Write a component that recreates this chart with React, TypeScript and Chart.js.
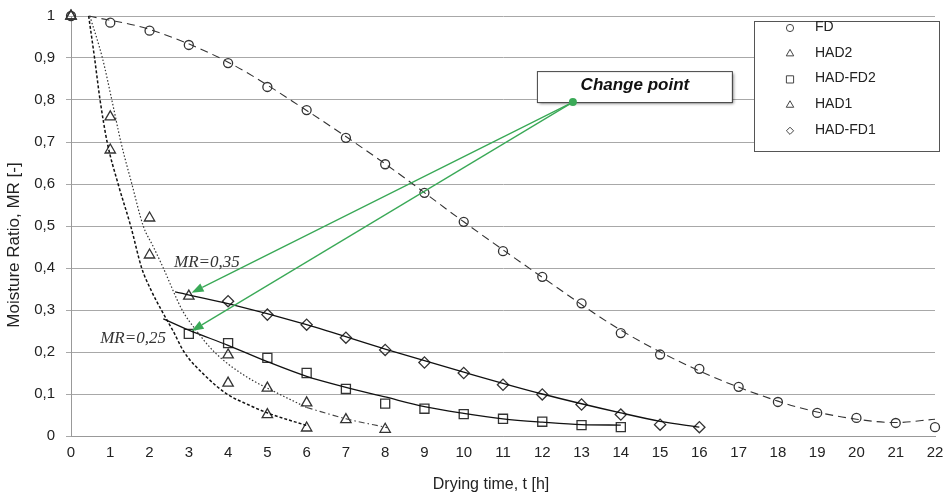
import React, { useEffect, useRef } from 'react';
import { Chart, registerables } from 'chart.js';

Chart.register(...registerables);

// ---------- data ----------
const fdTime = [0, 1, 2, 3, 4, 5, 6, 7, 8, 9, 10, 11, 12, 13, 14, 15, 16, 17, 18, 19, 20, 21, 22];
const fdMR = [1.0, 0.984, 0.965, 0.931, 0.888, 0.831, 0.776, 0.71, 0.647, 0.579, 0.51, 0.44, 0.379, 0.316, 0.245, 0.194, 0.16, 0.117, 0.081, 0.055, 0.043, 0.031, 0.021];

const had2Time = [0, 1, 2, 4, 5, 6];
const had2MR = [1.0, 0.681, 0.431, 0.126, 0.051, 0.019];

const had1Time = [0, 1, 2, 3, 4, 5, 6, 7, 8];
const had1MR = [1.0, 0.76, 0.519, 0.333, 0.193, 0.114, 0.079, 0.039, 0.016];

const hadFd2Time = [3, 4, 5, 6, 7, 8, 9, 10, 11, 12, 13, 14];
const hadFd2MR = [0.243, 0.221, 0.186, 0.15, 0.112, 0.077, 0.065, 0.052, 0.041, 0.034, 0.026, 0.021];

const hadFd1Time = [4, 5, 6, 7, 8, 9, 10, 11, 12, 13, 14, 15, 16];
const hadFd1MR = [0.321, 0.289, 0.265, 0.234, 0.205, 0.175, 0.15, 0.122, 0.099, 0.075, 0.051, 0.027, 0.021];

// fitted curves
const fdFitTime = [0.45, 2, 4, 6, 8, 10, 12, 14, 16, 18, 19, 20, 21, 22];
const fdFitMR = [1.0, 0.968, 0.89, 0.775, 0.648, 0.51, 0.378, 0.252, 0.155, 0.083, 0.057, 0.04, 0.032, 0.04];

const had2FitTime = [0.45, 0.6, 0.74, 0.92, 1.2, 1.52, 1.8, 2.05, 2.3, 2.6, 2.88, 3.4, 3.97, 4.5, 5, 6];
const had2FitMR = [1.0, 0.9, 0.8, 0.7, 0.6, 0.5, 0.4, 0.345, 0.3, 0.25, 0.2, 0.145, 0.1, 0.075, 0.055, 0.025];

const had1FitTime = [0.48, 0.8, 1.04, 1.27, 1.55, 1.84, 2.1, 2.35, 2.83, 3.2, 3.65, 4.4, 5.3, 6];
const had1FitMR = [1.0, 0.9, 0.8, 0.7, 0.6, 0.5, 0.45, 0.4, 0.3, 0.25, 0.2, 0.145, 0.1, 0.068];

const had1TailTime = [6, 7, 8.05];
const had1TailMR = [0.068, 0.041, 0.02];

const hadFd2FitTime = [2.35, 3, 4, 5, 6, 7, 8, 9, 10, 11, 12, 13, 14];
const hadFd2FitMR = [0.279, 0.252, 0.216, 0.177, 0.142, 0.116, 0.093, 0.07, 0.054, 0.041, 0.033, 0.027, 0.026];

const hadFd1FitTime = [2.65, 4, 6, 8, 10, 12, 14, 15, 16];
const hadFd1FitMR = [0.343, 0.315, 0.265, 0.207, 0.152, 0.1, 0.055, 0.035, 0.021];

const xTicksMax = 22;

// annotation anchors (data units)
const changePointLabel = 'Change point';
const changeDot = { x: 12.78, y: 0.795 };
const arrowTips = [{ x: 3.07, y: 0.341 }, { x: 3.07, y: 0.25 }];
const mrLabels = [
  { text: 'MR=0,35', x: 3.46, y: 0.412 },
  { text: 'MR=0,25', x: 1.58, y: 0.231 },
];
const xTitle = 'Drying time, t [h]';
const yTitle = 'Moisture Ratio, MR [-]';

const pts = (xs: number[], ys: number[]) => xs.map((x, i) => ({ x, y: ys[i] }));

const SANS = '"Liberation Sans", Arial, sans-serif';
const TXT = '#222';
const MK = '#333';
const GREEN = '#3aa957';

function drawMarker(ctx: CanvasRenderingContext2D, style: string, x: number, y: number, r: number) {
  ctx.beginPath();
  if (style === 'circle') {
    ctx.arc(x, y, r, 0, Math.PI * 2);
  } else if (style === 'triangle') {
    const t = r * 1.2;
    ctx.moveTo(x, y - t);
    ctx.lineTo(x + t * 0.866, y + t * 0.5);
    ctx.lineTo(x - t * 0.866, y + t * 0.5);
    ctx.closePath();
  } else if (style === 'rect') {
    const s = r;
    ctx.rect(x - s, y - s, 2 * s, 2 * s);
  } else if (style === 'rectRot') {
    ctx.moveTo(x - r, y);
    ctx.lineTo(x, y - r);
    ctx.lineTo(x + r, y);
    ctx.lineTo(x, y + r);
    ctx.closePath();
  }
  ctx.stroke();
}

const overlayPlugin = {
  id: 'overlay',
  afterDatasetsDraw(chart: any) {
    const { ctx, scales } = chart;
    const xs = scales.x;
    const ys = scales.y;
    const px = (v: number) => xs.getPixelForValue(v);
    const py = (v: number) => ys.getPixelForValue(v);
    ctx.save();

    // MR labels
    ctx.font = 'italic 17px "Liberation Serif", "Times New Roman", serif';
    ctx.fillStyle = '#333';
    ctx.textAlign = 'center';
    ctx.textBaseline = 'middle';
    mrLabels.forEach((l) => ctx.fillText(l.text, px(l.x), py(l.y)));

    // change point box
    const dx = px(changeDot.x);
    const dy = py(changeDot.y);
    const bw = 195;
    const bh = 31;
    const bx = dx - 36;
    const by = dy - bh;
    ctx.save();
    ctx.shadowColor = 'rgba(0,0,0,0.55)';
    ctx.shadowOffsetX = 2;
    ctx.shadowOffsetY = 2;
    ctx.shadowBlur = 3;
    ctx.fillStyle = '#fff';
    ctx.fillRect(bx, by, bw, bh);
    ctx.restore();
    ctx.strokeStyle = '#444';
    ctx.lineWidth = 1;
    ctx.strokeRect(bx + 0.5, by + 0.5, bw, bh);
    ctx.font = `italic bold 17px ${SANS}`;
    ctx.fillStyle = '#111';
    ctx.textAlign = 'center';
    ctx.textBaseline = 'middle';
    ctx.fillText(changePointLabel, bx + 98, by + 14);

    // arrows
    ctx.strokeStyle = GREEN;
    ctx.fillStyle = GREEN;
    ctx.lineWidth = 1.3;
    arrowTips.forEach((t) => {
      const tx = px(t.x);
      const ty = py(t.y);
      const ang = Math.atan2(ty - dy, tx - dx);
      const hl = 12;
      const hw = 4.5;
      const bxp = tx - hl * Math.cos(ang);
      const byp = ty - hl * Math.sin(ang);
      ctx.beginPath();
      ctx.moveTo(dx, dy);
      ctx.lineTo(bxp, byp);
      ctx.stroke();
      ctx.beginPath();
      ctx.moveTo(tx, ty);
      ctx.lineTo(bxp + hw * Math.sin(ang), byp - hw * Math.cos(ang));
      ctx.lineTo(bxp - hw * Math.sin(ang), byp + hw * Math.cos(ang));
      ctx.closePath();
      ctx.fill();
    });
    ctx.beginPath();
    ctx.arc(dx, dy, 4, 0, Math.PI * 2);
    ctx.fill();

    // legend
    const items = chart.data.datasets.filter((d: any) => d.inLegend);
    const lx = 754;
    const ly = 21;
    const lw = 185;
    const lh = 130;
    ctx.fillStyle = '#fff';
    ctx.fillRect(lx, ly, lw, lh);
    ctx.strokeStyle = '#555';
    ctx.lineWidth = 1;
    ctx.strokeRect(lx + 0.5, ly + 0.5, lw, lh);
    ctx.font = `14px ${SANS}`;
    ctx.textAlign = 'left';
    ctx.textBaseline = 'middle';
    items.forEach((d: any, i: number) => {
      const yy = ly + 6 + i * 25.7;
      ctx.strokeStyle = '#444';
      ctx.lineWidth = 1;
      drawMarker(ctx, d.pointStyle, 790, yy + 1, 3.6);
      ctx.fillStyle = TXT;
      ctx.fillText(d.label, 815, yy);
    });

    // axis titles
    ctx.fillStyle = TXT;
    ctx.textAlign = 'center';
    ctx.textBaseline = 'middle';
    ctx.font = `16px ${SANS}`;
    ctx.fillText(xTitle, 491, 485);
    ctx.save();
    ctx.font = `17px ${SANS}`;
    ctx.translate(14, 245);
    ctx.rotate(-Math.PI / 2);
    ctx.fillText(yTitle, 0, 0);
    ctx.restore();

    ctx.restore();
  },
};

const fitLine = (xs: number[], ys: number[], dash: number[], width: number, color: string) => ({
  label: '',
  data: pts(xs, ys),
  showLine: true,
  borderColor: color,
  borderWidth: width,
  borderDash: dash,
  pointRadius: 0,
  tension: 0.4,
  cubicInterpolationMode: 'monotone',
  clip: false,
  inLegend: false,
});

const markers = (label: string, xs: number[], ys: number[], style: string, r: number) => ({
  label,
  data: pts(xs, ys),
  showLine: false,
  pointStyle: style,
  pointRadius: r,
  pointBorderColor: MK,
  pointBackgroundColor: 'rgba(255,255,255,0)',
  pointBorderWidth: 1.3,
  clip: false,
  inLegend: true,
});

export default function App() {
  const ref = useRef<HTMLCanvasElement>(null);
  useEffect(() => {
    if (!ref.current) return;
    const chart = new Chart(ref.current, {
      type: 'scatter',
      data: {
        datasets: [
          fitLine(fdFitTime, fdFitMR, [8, 5], 1.1, '#333'),
          fitLine(had2FitTime, had2FitMR, [3, 2], 1.5, '#111'),
          fitLine(had1FitTime, had1FitMR, [1.5, 2], 1.2, '#333'),
          fitLine(had1TailTime, had1TailMR, [6, 3, 1.5, 3], 1.1, '#444'),
          fitLine(hadFd2FitTime, hadFd2FitMR, [], 1.3, '#111'),
          fitLine(hadFd1FitTime, hadFd1FitMR, [], 1.3, '#111'),
          markers('FD', fdTime, fdMR, 'circle', 4.5),
          markers('HAD2', had2Time, had2MR, 'triangle', 6),
          markers('HAD-FD2', hadFd2Time, hadFd2MR, 'rect', 6.4),
          markers('HAD1', had1Time, had1MR, 'triangle', 6),
          markers('HAD-FD1', hadFd1Time, hadFd1MR, 'rectRot', 5.6),
        ] as any,
      },
      options: {
        animation: false,
        responsive: false,
        layout: { padding: { top: 16, right: 13, left: 0, bottom: 0 } },
        plugins: { legend: { display: false }, tooltip: { enabled: false } },
        scales: {
          x: {
            type: 'linear',
            min: 0,
            max: xTicksMax,
            afterFit: (s: any) => {
              s.height = 61;
              s.paddingLeft = 0;
              s.paddingRight = 0;
            },
            ticks: { stepSize: 1, color: TXT, font: { size: 15, family: SANS }, padding: 8 },
            grid: { display: false, drawTicks: false },
            border: { display: true, color: '#999', width: 1 },
          },
          y: {
            type: 'linear',
            min: 0,
            max: 1,
            afterFit: (s: any) => {
              s.width = 71;
              s.paddingTop = 0;
              s.paddingBottom = 0;
            },
            ticks: {
              stepSize: 0.1,
              color: TXT,
              font: { size: 15, family: SANS },
              padding: 11,
              callback: (v: any) => {
                const n = Number(v);
                if (Math.abs(n) < 1e-9) return '0';
                if (Math.abs(n - 1) < 1e-9) return '1';
                return n.toFixed(1).replace('.', ',');
              },
            },
            grid: { color: '#a8a8a8', lineWidth: 1, tickLength: 5, drawTicks: true },
            border: { display: true, color: '#999', width: 1 },
          },
        },
      },
      plugins: [overlayPlugin],
    });
    return () => chart.destroy();
  }, []);
  return (
    <div style={{ position: 'absolute', left: 0, top: 0, width: 948, height: 497, background: '#fff' }}>
      <canvas ref={ref} width={948} height={497} style={{ display: 'block' }} />
    </div>
  );
}
